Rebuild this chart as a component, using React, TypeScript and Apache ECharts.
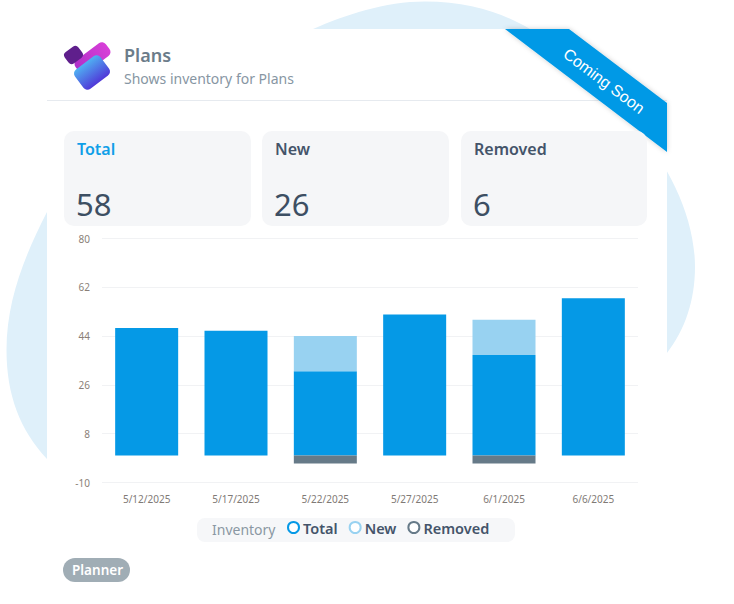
import React, { useEffect, useRef } from "react";
import * as echarts from "echarts";

const dates = ["5/12/2025", "5/17/2025", "5/22/2025", "5/27/2025", "6/1/2025", "6/6/2025"];
const totalValues = [47, 46, 31, 52, 37, 58];
const newValues = [0, 0, 13, 0, 13, 0];
const removedValues = [0, 0, -3, 0, -3, 0];
const yTicks = [-10, 8, 26, 44, 62, 80];
const seriesNames = ["Total", "New", "Removed"];
const seriesColors = ["#0599e6", "#98d2f1", "#667a88"];
const kpiCards = [
  { title: "Total", value: "58", color: "#0f9fe8", x: 64, w: 187 },
  { title: "New", value: "26", color: "#44546a", x: 262, w: 187 },
  { title: "Removed", value: "6", color: "#44546a", x: 461, w: 186 },
];

const BLOB =
  "M425 1.5C470 1.5 505 14 530 29C600 75 695 170 695 267C695 300 685 330 667 353L47 459C20 430 6.5 395 6.5 350C6.5 300 25 255 47 212C100 100 250 50 313 29C345 15 385 1.5 425 1.5Z";
echarts.graphic.registerShape("blob", echarts.graphic.extendPath(BLOB, {}) as any);

const FONT = '"Noto Sans", sans-serif';
const txt = (x: number, y: number, text: string, size: number, fill: string, weight: any = 400, extra: any = {}) => ({
  type: "text",
  x,
  y,
  z: 0,
  style: { text, fontSize: size, fill, fontWeight: weight, fontFamily: FONT, textVerticalAlign: "middle", verticalAlign: "middle", ...extra },
});

const logoRect = (cx: number, cy: number, w: number, h: number, r: number, fill: any) => ({
  type: "rect",
  x: cx,
  y: cy,
  rotation: (37 * Math.PI) / 180,
  z: 0,
  shape: { x: -w / 2, y: -h / 2, width: w, height: h, r },
  style: { fill },
});

export default function App() {
  const ref = useRef<HTMLDivElement>(null);
  useEffect(() => {
    document.body.style.margin = "0";
    const chart = echarts.init(ref.current!, undefined, { renderer: "svg" });
    const grad = (a: string, b: string, x2 = 0, y2 = 1) => ({
      type: "linear", x: 0, y: 0, x2, y2,
      colorStops: [{ offset: 0, color: a }, { offset: 1, color: b }],
    });
    const graphic: any[] = [
      { type: "blob", x: 0, y: 0, z: 0, style: { fill: "#dff0fa" } },
      { type: "rect", z: 0, shape: { x: 47, y: 29, width: 620, height: 575 }, style: { fill: "#ffffff" } },
      { type: "line", z: 0, shape: { x1: 47, y1: 100.5, x2: 667, y2: 100.5 }, style: { stroke: "#e6eaef", lineWidth: 1 } },
      {
        type: "polygon", z: 0,
        shape: { points: [[505, 29], [569, 29], [667, 103], [667, 152]] },
        style: { fill: "#0599e6", shadowBlur: 5, shadowColor: "rgba(0,0,0,0.2)" },
      },
      {
        type: "text", x: 604, y: 81, z: 0, rotation: (-37 * Math.PI) / 180,
        style: { text: "Coming Soon", fontSize: 16, fill: "#ffffff", fontFamily: '"Liberation Sans", sans-serif', align: "center", verticalAlign: "middle" },
      },
      logoRect(92.5, 58, 38, 16, 5, grad("#b02fc8", "#d83fd8", 1, 0)),
      logoRect(73.5, 55, 17, 14, 4, "#5f1f8c"),
      logoRect(92, 72.5, 32, 24, 5, grad("#4fb0f2", "#5038d8", 0, 1)),
      txt(124, 55, "Plans", 18, "#6b7c8a", 600),
      txt(124, 78, "Shows inventory for Plans", 14, "#8796a3"),
      { type: "rect", z: 0, shape: { x: 197, y: 518, width: 318, height: 24, r: 8 }, style: { fill: "#f6f7f9" } },
      txt(212, 529, "Inventory", 14, "#8a97a3"),
      { type: "rect", z: 0, shape: { x: 63, y: 558, width: 67, height: 24, r: 12 }, style: { fill: "#a0adb5" } },
      txt(72, 570, "Planner", 13.5, "#ffffff", 600),
      txt(118, 211, "+11", 14, "#5f6e7c"),
      {
        type: "polygon", z: 0,
        shape: { points: [[154.5, 204], [162, 211], [157.5, 211], [157.5, 218], [151.5, 218], [151.5, 211], [147, 211]] },
        style: { fill: "#8f9ea8" },
      },
      txt(166, 211, "23%", 14, "#5f6e7c"),
    ];
    kpiCards.forEach((c) => {
      graphic.push({ type: "rect", z: 0, shape: { x: c.x, y: 131, width: c.w, height: 95, r: 10 }, style: { fill: "#f5f6f8" } });
      graphic.push(txt(c.x + 13, 149, c.title, 16, c.color, 600));
      graphic.push(txt(c.x + 12, 204, c.value, 31, "#3d4f63"));
    });
    const mk = (name: string, data: number[], color: string) => ({
      name,
      type: "bar",
      stack: "inv",
      data,
      barWidth: 63,
      itemStyle: { color },
      emphasis: { disabled: true },
    });
    chart.setOption({
      animation: false,
      textStyle: { fontFamily: FONT },
      grid: { left: 102, right: 96, top: 238.5, bottom: 121.5 },
      xAxis: {
        type: "category",
        data: dates,
        z: 1,
        axisLine: { show: false },
        axisTick: { show: false },
        axisLabel: { fontSize: 10, color: "#7f7a76", margin: 11, fontFamily: FONT, interval: 0 },
      },
      yAxis: {
        type: "value",
        min: yTicks[0],
        max: yTicks[yTicks.length - 1],
        z: 1,
        axisLine: { show: false },
        axisTick: { show: false, customValues: yTicks },
        axisLabel: { fontSize: 10, color: "#8a7f78", margin: 12, fontFamily: FONT, customValues: yTicks },
        splitLine: { show: true, lineStyle: { color: "#f1f2f4", width: 1 } },
      },
      legend: {
        left: 287,
        top: 520,
        selectedMode: false,
        icon: "circle",
        itemWidth: 11,
        itemHeight: 11,
        itemGap: 11,
        padding: 0,
        textStyle: { fontSize: 14.5, fontWeight: 600, color: "#44546a", fontFamily: FONT, padding: [0, 0, 0, -1] },
        data: seriesNames.map((name, i) => ({
          name,
          itemStyle: { color: "#ffffff", borderColor: seriesColors[i], borderWidth: 2 },
        })),
      },
      series: [
        mk(seriesNames[0], totalValues, seriesColors[0]),
        mk(seriesNames[1], newValues, seriesColors[1]),
        mk(seriesNames[2], removedValues, seriesColors[2]),
      ],
      graphic: { elements: graphic },
    });
    return () => chart.dispose();
  }, []);
  return <div ref={ref} style={{ width: 734, height: 604 }} />;
}
